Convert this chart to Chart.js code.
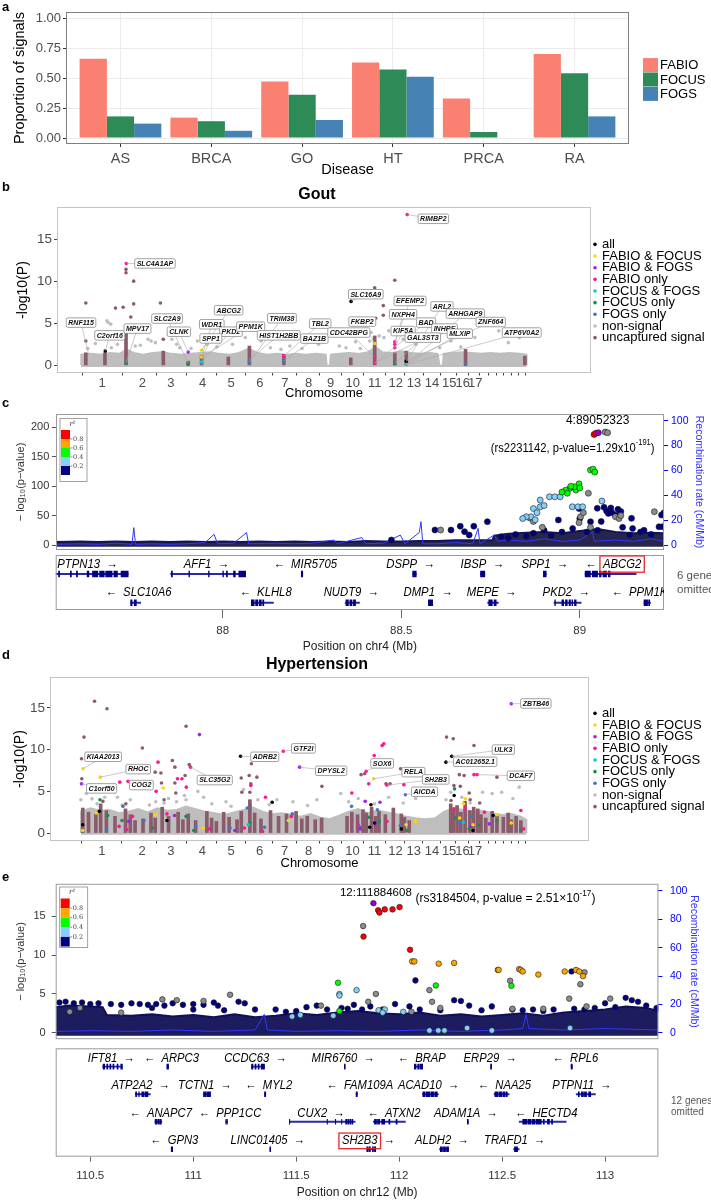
<!DOCTYPE html>
<html><head><meta charset="utf-8"><title>FABIO / FOCUS / FOGS signals</title>
<script src="https://cdn.jsdelivr.net/npm/chart.js@4.4.1/dist/chart.umd.min.js"></script>
<style>
html,body{margin:0;padding:0;background:#fff}
body{position:relative;width:711px;height:1200px;overflow:hidden}
.w{position:absolute;left:0;width:711px}
.L{position:absolute;left:2px;font:bold 13px "Liberation Sans",Arial,sans-serif;color:#000}
</style></head><body>
<div class="w" style="top:0;height:180px"><canvas id="cA"></canvas></div>
<div class="w" style="top:180px;height:222px"><canvas id="cB"></canvas></div>
<div class="w" style="top:400px;height:160px"><canvas id="cC"></canvas></div>
<div class="w" style="top:553px;height:110px"><canvas id="cCt"></canvas></div>
<div class="w" style="top:630px;height:242px"><canvas id="cD"></canvas></div>
<div class="w" style="top:870px;height:183px"><canvas id="cE"></canvas></div>
<div class="w" style="top:1046px;height:154px"><canvas id="cEt"></canvas></div>
<div class="L" style="top:-1px">a</div>
<div class="L" style="top:179px">b</div>
<div class="L" style="top:395px">c</div>
<div class="L" style="top:647px">d</div>
<div class="L" style="top:869px">e</div>
<script>
// ===================== DATA =====================
// Panel a
const diseases = ['AS','BRCA','GO','HT','PRCA','RA'];
const propFABIO = [0.66,0.17,0.47,0.63,0.33,0.70];
const propFOCUS = [0.18,0.14,0.36,0.57,0.05,0.54];
const propFOGS  = [0.12,0.06,0.15,0.51,0.00,0.18];
const methodNames = ['FABIO','FOCUS','FOGS'];

// Manhattan common
const sigCats = ['all','FABIO & FOCUS','FABIO & FOGS','FABIO only','FOCUS & FOGS','FOCUS only','FOGS only','non-signal','uncaptured signal'];
const chromTicks = [35,77,107,140,170,200,226,251,274,297,320,342,361,380,398,412,425,435,443,451,459,467,474];
const chromLabels = ['1','2','3','4','5','6','7','8','9','10','11','12','13','14','15','16','17','','','','','',''];

// Panel b (Gout): x = cumulative genome position (a.u.), y = -log10(P)
const bBand = [[13,0],[13,1.3],[23,1.4],[33,1.3],[43,1.5],[53,1.4],[61,1.9],[68,1.5],[78,1.3],[88,1.5],[98,1.6],[108,1.4],[118,1.3],[128,1.4],[138,1.5],[148,1.6],[158,1.4],[168,1.3],[178,1.5],[188,2.0],[198,1.5],[208,1.3],[218,1.4],[228,1.3],[238,1.4],[248,1.3],[258,1.4],[269,1.3],[270,0],[273,0],[274,1.3],[283,1.4],[293,1.5],[303,1.4],[313,1.6],[321,2.2],[328,1.6],[338,1.5],[348,1.7],[358,1.5],[368,1.4],[378,1.5],[386,1.4],[388,0],[391,0],[392,1.4],[401,1.5],[411,1.6],[421,1.5],[431,1.4],[441,1.5],[451,1.4],[461,1.5],[471,1.4],[479,1.3],[479,0]];
const bGrey = [[41.3,5.1],[40,5.3],[44,4.9],[31.3,3.3],[44.7,2.1],[51,2.5],[69.7,2.3],[75,2.4],[83,3.1],[86.3,2.9],[90.7,2.7],[108,3.1],[113,2.5],[116.3,2.1],[134.7,2.9],[144.7,2.5],[155,2.2],[171.3,2.5],[184.7,3.3],[201.3,2.9],[211,2.1],[231.3,2.3],[244,2.0],[261.3,2.5],[283,2.3],[316.3,3.9],[314.7,2.9],[324.7,3.5],[329.7,3.3],[334.7,4.1],[349.7,3.1],[363,2.5],[388,2.1],[399.7,2.9],[410,2.2],[424.7,3.3],[449.7,4.1],[459.7,2.7],[471.3,3.3],[20,2.0],[28,2.6],[60,2.6],[128,2.0],[222,1.9],[290,2.1],[305,2.0],[300,2.8]];
const bUncapturedCols = [[18,1.5],[38,1.5],[60,4.3],[99,1.7],[125,0.5],[139,1.2],[167,1.0],[189,2.3],[225,1.3],[295,0.9],[320,3.5],[341,1.5],[353,1.7],[415,1.9],[477,1.1]];
const bUncapturedPts = [[18,2.9],[18,7.4],[49,6.8],[57,6.9],[60,11.4],[60,11.0],[68,10.0],[68,7.3],[65,5.75],[96,7.4],[99,3.1],[320,9.2],[321,5.6],[329,7.1],[329,5.95],[341,10.1],[60,4.2],[60,3.6]];
const bAll = [[38.3,1.7],[295.3,7.6],[353,0.5]];
const bFabioFocus = [[139,1.8],[139,1.0],[320,2.6]];
const bFabioFogs = [[125,1.6]];
const bFabioOnly = [[60.3,12.1],[354,17.9],[341,2.8],[341,2.5],[341,2.1],[320,1.0],[225,1.1],[320,0.3]];
const bFocusFogs = [[139,0.4],[353,0.1]];
const bFocusOnly = [[60,0.3],[125,0.2],[341,0.2]];
const bFogsOnly = [[189,0.4],[225,0.5],[415,0.1],[125,0.1]];
// gene labels: name, label x, label y, signal x, signal y
const bLabels = [['RNF115',13,5.08,21,1.3],['C2orf16',43,3.57,38.3,1.7],['MPV17',72,4.37,60,0.3],['SLC4A1AP',90.3,12.1,60.3,12.1],['SLC2A9',103,5.56,125,0.3],['CLNK',115.3,4.0,125,1.6],['ABCG2',167.3,6.55,139,1.8],['WDR1',149.7,4.88,139,1.0],['PKD2',169.7,4.0,139,0.4],['SPP1',148.7,3.2,139,0.7],['PPM1K',190.3,4.6,139,0.95],['TRIM38',223,5.6,189,0.4],['HIST1H2BB',219.7,3.57,189,0.7],['TBL2',263,4.96,225,1.1],['BAZ1B',257,3.18,225,0.5],['CDC42BPG',293,3.9,320,1.0],['FKBP2',307,5.2,320,2.6],['SLC16A9',310.7,8.45,295.3,7.6],['EFEMP2',357,7.65,341,2.8],['NXPH4',349.7,6.07,341,2.5],['KIF5A',349.7,4.08,341,2.1],['ARL2',390.3,7.0,353,0.5],['BAD',373.7,5.08,320,0.3],['ARHGAP9',414.7,6.15,353,0.1],['INHBE',393,4.37,320,0.3],['GAL3ST3',370.3,3.3,341,0.2],['ZNF664',441.3,5.15,353,0.5],['MLXIP',409,3.77,353,0.1],['ATP6V0A2',473.7,3.9,353,0.1],['RIMBP2',381.3,17.4,354,17.9]];

// Panel d (Hypertension)
const dBand = [[13,0],[13,2.6],[23,3.0],[33,2.7],[43,2.8],[53,2.4],[63,2.6],[73,2.9],[83,2.5],[93,3.0],[103,2.7],[113,2.8],[123,3.2],[133,2.9],[143,2.6],[153,2.4],[163,2.2],[173,2.5],[183,2.8],[193,3.1],[203,2.6],[213,2.3],[223,2.4],[233,2.2],[243,2.0],[253,2.3],[263,1.9],[273,1.7],[283,2.1],[293,2.6],[303,2.9],[313,2.4],[323,2.7],[333,2.5],[343,2.3],[353,2.0],[363,1.8],[373,1.7],[383,1.8],[393,2.6],[403,3.0],[413,2.8],[423,2.6],[433,2.7],[443,2.4],[453,2.2],[463,2.3],[473,2.0],[479,1.6],[479,0]];
const dGrey = [[13,4.0],[18.7,4.75],[24.7,4.1],[38,4.3],[48,4.9],[51.3,4.3],[56.3,3.35],[64.7,4.0],[84.7,3.35],[91.3,3.75],[104.7,4.15],[113,3.75],[123,4.0],[121.3,4.5],[135.3,5.0],[141.3,4.3],[164.7,3.75],[183,5.2],[198,4.0],[218,4.0],[234.7,3.75],[259.7,4.0],[284.7,4.75],[293,3.75],[303,4.15],[334.7,4.3],[363,4.15],[394.7,4.0],[399.7,4.9],[411.3,4.3],[433,4.9],[443,4.75],[453,4.9],[464.7,4.15],[471.3,5.5],[150,3.5],[170,3.2],[210,3.4],[250,3.3],[320,3.5],[350,3.6],[420,3.6],[30,3.5],[100,3.6]];
const dUncapturedCols = [[15,3.0],[21,2.5],[28.7,2.3],[33.7,3.5],[39.7,2.7],[48.7,2.0],[59.7,2.9],[64.7,2.2],[69.7,1.5],[78,1.7],[86.3,2.4],[90.7,1.8],[98,3.1],[104.7,2.0],[114.7,2.5],[119.7,1.6],[125.3,2.3],[133,1.5],[144.7,2.6],[149.7,1.8],[154.7,1.4],[162.3,2.5],[168,1.9],[176.3,1.6],[180.7,2.6],[189.7,4.0],[194.7,2.4],[201.3,1.7],[211.3,2.7],[219.7,2.0],[228,2.3],[238,2.6],[244,1.7],[249.7,2.0],[258,1.6],[264.7,1.8],[291.3,2.0],[296.3,2.5],[302.3,2.2],[308,2.8],[311.3,2.4],[317,3.1],[321.3,2.0],[324.7,2.6],[331.3,2.2],[339.7,3.0],[348,2.3],[351.3,1.9],[356.3,1.5],[399.7,3.5],[402.3,2.8],[406.3,3.3],[410.3,2.5],[414.7,3.8],[419.7,2.7],[423.7,3.1],[428,2.9],[431.3,2.2],[436.3,1.8],[443,2.6],[448,2.1],[454.7,1.9],[459.7,2.4],[463,1.6],[468,2.0],[473,1.5]];
const dUncapturedPts = [[27.3,15.8],[40.3,14.9],[16.3,11.5],[123,12.8],[77.3,10.2],[13.7,8.9],[14,6.5],[90.7,7.3],[96.7,7.2],[97.3,6.0],[108.7,8.7],[111.3,7.9],[111.3,6.0],[112.3,4.8],[122,6.9],[126.3,8.2],[191.3,8.3],[189,6.9],[197,6.7],[180.7,6.6],[190.7,5.9],[181.3,4.9],[395.3,11.5],[402.3,11.3],[424,10.5],[347.3,7.7],[309.7,7.1],[306,7.0],[448,6.7],[408.7,7.0],[413.7,6.9],[403,5.7],[409.7,5.6],[332,5.9],[336.3,5.9],[419,4.8],[265,5.6],[36,3.8],[60,3.5],[100,4.0],[189.7,4.9],[190,3.3],[400,3.9],[420,4.0],[430,3.6]];
const dAll = [[180,9.2],[400.7,9.2],[394.7,8.5],[403.3,4.5],[213,3.7],[316.3,3.4],[32.3,2.6],[15,1.0],[320,1.2],[315,0.7],[444,2.1],[348,0.5],[423,0.3],[103,1.5]];
const dFabioFocus = [[15.3,7.7],[33.3,6.7],[99,5.4],[319,6.5],[29,2.4],[91,2.2],[230,1.5],[415,4.1],[413,3.5],[448,2.2],[353,1.0],[423,1.0],[463,1.2],[141,0.6],[363,1.4],[409,1.8],[15,0.3]];
const dFabioFogs = [[137,11.8],[13.7,5.9],[241.7,7.9],[463,15.5],[310.3,3.8],[325.7,3.7],[63,1.4],[111,2.1],[174,0.3],[305,0.5],[421,0.8],[440,1.1],[321,1.1]];
const dFabioOnly = [[224.7,9.8],[53.7,6.1],[62.3,6.2],[93.7,8.5],[91.7,5.0],[84,5.7],[114,6.5],[118.7,6.5],[127.7,7.9],[123.3,5.5],[190.7,5.7],[206,4.3],[329.7,10.7],[328,10.5],[319.7,9.3],[321.3,8.7],[311.3,7.4],[314,5.9],[333,5.75],[350.7,5.8],[424,7.0],[427.3,7.0],[296.3,4.8],[67,2.0],[103,2.3],[53,0.8],[61,0.4],[147,0.5],[184,0.6],[233,2.0],[303,1.0],[333,1.4],[403,2.9],[415,3.0],[435,2.5],[473,2.7],[476,0.5],[203,0.2]];
const dFocusFogs = [[188,1.0],[413,1.3]];
const dFocusOnly = [[33,4.0],[403.7,5.3],[41,2.1],[56,1.5],[123,2.0],[190,1.2],[314,1.9],[325,1.4],[354,0.3],[404,1.8],[419,0.5],[429,0.9],[448,1.5],[473,0.3],[88,0.6],[131,0.3]];
const dFogsOnly = [[352.3,4.6],[57,3.2],[79,1.5],[15,0.2],[40,0.4],[133,0.8],[169,0.6],[187,3.0],[205,0.7],[234,2.3],[296,3.2],[305,0.7],[323,2.8],[347,0.9],[409,1.2],[421,2.0]];
const dLabels = [['KIAA2013',36.3,9.14,15.3,7.7],['RHOC',73,7.66,33.3,6.7],['C1orf50',34.7,5.35,13.7,5.9],['COG2',76.3,5.75,62.3,6.2],['SLC35G2',153,6.35,127.7,7.9],['ADRB2',205.3,9.14,180,9.2],['GTF2I',245.7,10.15,224.7,9.8],['DPYSL2',274.7,7.46,241.7,7.9],['SOX6',328,8.35,311.3,7.4],['RELA',360.7,7.3,319,6.5],['SH2B3',384,6.43,333,5.75],['AICDA',372.3,4.95,352.3,4.6],['ULK3',454.7,10.0,400.7,9.2],['AC012652.1',425.3,8.54,394.7,8.5],['DCAF7',473,6.86,427.3,7.0],['ZBTB46',488.7,15.53,463,15.5]];

// LocusZoom common
const r2Breaks = ['0.8','0.6','0.4','0.2'];

// Panel c (chr4, Mb ; -log10 p ; recombination cM/Mb)
const cBand = [[87.532,5],[87.6,6],[87.65,5],[87.7,6],[87.75,5],[87.8,6],[87.85,5],[87.9,6],[87.95,5],[88.0,6],[88.05,5],[88.1,6],[88.15,5],[88.2,6],[88.25,5],[88.3,6],[88.35,5],[88.4,7],[88.45,6],[88.5,6],[88.55,7],[88.6,7],[88.65,8],[88.7,8],[88.755,8],[88.76,16],[88.8,19],[88.85,21],[88.9,22],[88.95,20],[89.0,24],[89.05,27],[89.1,22],[89.15,20],[89.2,21],[89.236,20]];
const cLead = [[89.052,191]];
const cRed = [[89.040,188],[89.045,190]];
const cOrange = [];
const cGreen = [[89.030,127.5],[89.037,129],[89.042,124],[88.998,104],[88.972,96.4],[88.96,93],[88.989,93.5],[88.985,99],[89.0,97],[88.965,88],[88.95,90],[88.975,100]];
const cLightBlue = [[88.889,76.5],[88.915,82],[88.93,82],[88.945,82],[88.889,65],[88.9,67],[88.863,48],[88.85,48],[88.875,43],[88.87,62],[88.979,65],[88.995,65],[89.062,74.8],[89.008,65],[88.84,45],[88.88,55]];
const cGrey = [[89.071,192],[89.078,191],[89.024,88],[89.002,48],[88.998,38],[89.1,48],[89.11,45],[89.209,56.7],[88.86,46],[88.87,40],[88.61,25.5],[88.895,30],[89.03,30],[89.01,55],[89.115,50]];
const cNavy = [[88.940,42.5],[88.998,62],[89.049,62.4],[89.068,64],[89.087,63],[89.107,60.7],[89.1,51],[89.08,53.7],[89.145,45.3],[89.229,51],[89.236,55],[89.222,31],[89.232,31],[88.594,25.5],[88.639,25.5],[88.665,32],[88.677,22.7],[88.69,17],[88.703,32],[88.741,39.7],[88.472,8.5],[89.0,45],[89.03,39.6],[89.148,28],[88.9,25],[88.95,22],[89.05,25],[89.12,30],[89.17,22],[88.8,12],[88.85,15],[89.06,40],[89.09,55],[89.075,58],[89.115,57],[89.18,25],[89.2,18],[88.78,14],[88.82,18],[88.87,20],[88.92,16],[88.98,28],[89.02,22],[89.14,17]];
const cRecomb = [[87.532,0.5],[87.6,1],[87.65,0.5],[87.7,1.5],[87.745,0.5],[87.75,14],[87.755,0.5],[87.8,1],[87.85,0.5],[87.9,1],[87.95,2],[87.975,8.6],[87.985,1],[88.03,1.5],[88.066,10],[88.072,1],[88.15,1.5],[88.2,1],[88.25,1.5],[88.311,4],[88.32,1],[88.389,6],[88.4,1],[88.45,1.5],[88.497,8],[88.51,1],[88.55,10],[88.555,18.8],[88.56,1],[88.6,1],[88.65,2],[88.7,1],[88.715,13.4],[88.72,1],[88.76,8],[88.77,3],[88.8,4],[88.85,3],[88.9,5],[88.95,3],[89.0,4],[89.036,10.7],[89.04,3],[89.1,4],[89.15,3],[89.2,5],[89.236,3]];
const cPosTicks = [88,88.5,89];
// genes: name, row, start, end, strand, label centre
const cGenes = [['PTPN13',1,87.532,87.735,1,87.621],['AFF1',1,87.854,88.064,1,87.954],['MIR5705',1,88.220,88.224,-1,88.231],['DSPP',1,88.532,88.542,1,88.526],['IBSP',1,88.722,88.734,1,88.727],['SPP1',1,88.898,88.906,1,88.902],['ABCG2',1,89.015,89.158,-1,89.094],['SLC10A6',2,87.742,87.770,-1,87.764],['KLHL8',2,88.080,88.142,-1,88.120],['NUDT9',2,88.343,88.383,1,88.360],['DMP1',2,88.576,88.588,1,88.575],['MEPE',2,88.742,88.772,1,88.753],['PKD2',2,88.928,89.004,1,88.962],['PPM1K',2,89.180,89.198,-1,89.167]];
const cExons = [[1,87.540,87.543],[1,87.573,87.576],[1,87.590,87.593],[1,87.620,87.625],[1,87.635,87.650],[1,87.655,87.668],[1,87.672,87.690],[1,87.695,87.705],[1,87.715,87.735],[1,87.856,87.859],[1,87.905,87.907],[1,87.960,87.962],[1,88.000,88.002],[1,88.010,88.013],[1,88.030,88.035],[1,88.045,88.064],[1,88.220,88.224],[1,88.532,88.542],[1,88.722,88.734],[1,88.898,88.906],[1,89.015,89.030],[1,89.035,89.050],[1,89.055,89.060],[1,89.065,89.075],[1,89.080,89.085],[2,87.742,87.746],[2,87.752,87.758],[2,88.080,88.088],[2,88.092,88.098],[2,88.102,88.108],[2,88.112,88.115],[2,88.345,88.352],[2,88.356,88.362],[2,88.366,88.372],[2,88.576,88.588],[2,88.745,88.755],[2,88.760,88.766],[2,88.930,88.932],[2,88.950,88.955],[2,88.960,88.965],[2,88.970,88.974],[2,88.978,88.980],[2,88.985,88.990],[2,89.180,89.190],[2,89.193,89.196]];

// Panel e (chr12)
const eBand = [[110.332,3.3],[110.4,3.5],[110.5,3.4],[110.56,3.3],[110.58,2.3],[110.7,2.2],[110.8,2.4],[110.9,2.1],[111.0,2.3],[111.1,2.0],[111.2,2.4],[111.3,2.0],[111.4,2.2],[111.5,2.5],[111.6,2.3],[111.7,2.6],[111.8,2.8],[111.9,2.5],[112.0,2.4],[112.1,2.6],[112.2,2.2],[112.3,2.4],[112.4,2.1],[112.5,2.3],[112.6,2.5],[112.7,2.2],[112.8,2.6],[112.9,2.8],[113.0,3.0],[113.1,3.4],[113.2,3.2],[113.259,2.8]];
const eLead = [[111.875,16.7]];
const eRed = [[111.898,15.8],[111.904,15.5],[111.930,15.9],[111.968,15.9],[112.002,16.2],[111.827,12.4],[112.053,10.7]];
const eOrange = [[112.063,9.2],[112.074,9.2],[112.192,8.9],[112.267,9.0],[112.479,8.1],[112.483,8.1],[112.583,8.2],[112.59,8.1],[112.6,7.9],[112.676,7.5],[112.804,7.9],[112.859,8.1],[112.875,7.9],[112.893,7.3]];
const eGreen = [[111.703,6.45],[112.545,6.05],[112.178,6.1],[111.71,2.8]];
const eLightBlue = [[111.71,5.0],[111.71,4.8],[111.793,5.5],[111.9,2.9],[111.93,3.0],[111.92,2.6],[112.02,2.7],[111.52,2.3],[111.48,2.1],[111.68,2.2],[112.147,0.3],[112.19,0.3],[112.22,0.3],[112.33,0.6],[112.45,0.3],[112.83,0.6]];
const eGrey = [[111.825,13.75],[112.9,7.8],[112.88,6.25],[112.539,6.7],[112.147,5.5],[111.887,5.0],[111.179,4.9],[112.826,4.4],[113.025,4.4],[112.91,3.4],[110.4,2.7],[110.65,2.6],[110.92,4.2],[111.62,3.5],[111.85,4.0],[112.16,4.0],[112.06,2.7],[112.2,3.2],[112.55,3.1],[112.7,3.1],[110.45,3.2],[110.85,4.3],[111.05,4.1]];
const eNavy = [[110.6,3.7],[110.65,3.6],[110.7,3.8],[110.74,3.7],[110.78,3.6],[110.82,3.7],[110.86,3.5],[110.9,3.8],[110.95,3.6],[111.0,3.7],[111.05,3.6],[111.1,3.9],[111.12,3.5],[111.0,3.0],[110.8,3.2],[111.15,2.9],[111.22,4.0],[111.25,3.8],[111.3,3.0],[111.6,3.5],[111.65,3.0],[111.72,3.2],[111.78,3.6],[111.82,3.0],[111.86,3.4],[111.92,3.0],[111.98,3.7],[112.05,3.4],[112.1,3.0],[112.3,4.1],[112.34,3.5],[112.4,2.9],[112.45,3.4],[112.55,3.0],[112.6,2.9],[112.65,3.0],[112.75,3.0],[112.837,7.9],[112.85,3.1],[112.95,3.2],[113.0,3.8],[113.1,4.5],[113.13,4.2],[113.16,4.0],[113.2,3.5],[113.25,3.2],[112.079,6.75],[112.267,4.2],[111.75,3.1],[110.35,3.9],[110.38,4.0],[110.42,3.8],[110.46,3.9],[110.5,3.7],[110.54,3.8],[111.5,2.8],[111.55,3.3],[111.4,3.0],[111.45,2.7],[112.2,2.9],[112.7,2.8],[112.9,3.0],[113.05,3.3]];
const eRecomb = [[110.332,1],[110.5,1.5],[110.7,1],[110.9,2],[111.1,1],[111.3,2],[111.345,13],[111.36,2],[111.5,1],[111.7,1.5],[111.9,1],[112.1,2],[112.3,1],[112.5,2],[112.6,3],[112.616,13],[112.63,3],[112.8,2],[113.0,3],[113.259,2]];
const ePosTicks = [110.5,111,111.5,112,112.5,113];
const eGenes = [['IFT81',1,110.560,110.656,1,110.602],['ARPC3',1,110.872,110.880,-1,110.894],['CCDC63',1,111.283,111.346,1,111.302],['MIR6760',1,111.734,111.738,1,111.728],['BRAP',1,112.074,112.114,-1,112.110],['ERP29',1,112.444,112.449,1,112.442],['RPL6',1,112.835,112.841,-1,112.856],['ATP2A2',2,110.719,110.792,1,110.745],['TCTN1',2,111.050,111.084,1,111.057],['MYL2',2,111.346,111.352,-1,111.367],['FAM109A',2,111.791,111.797,-1,111.809],['ACAD10',2,112.114,112.190,1,112.143],['NAA25',2,112.461,112.534,-1,112.511],['PTPN11',2,112.860,112.953,1,112.887],['ANAPC7',3,110.814,110.847,-1,110.842],['PPP1CC',3,111.158,111.166,-1,111.179],['CUX2',3,111.467,111.786,1,111.621],['ATXN2',3,111.875,112.030,-1,111.975],['ADAM1A',3,112.331,112.336,1,112.324],['HECTD4',3,112.583,112.811,-1,112.714],['GPN3',4,110.893,110.900,-1,110.908],['LINC01405',4,111.372,111.376,1,111.362],['SH2B3',4,111.842,111.886,1,111.851],['ALDH2',4,112.196,112.240,1,112.207],['TRAFD1',4,112.556,112.583,1,112.561]];
const eExons = [[1,110.562,110.570],[1,110.580,110.585],[1,110.595,110.600],[1,110.610,110.615],[1,110.630,110.635],[1,110.648,110.656],[1,110.872,110.880],[1,111.283,111.290],[1,111.300,111.305],[1,111.315,111.320],[1,111.330,111.346],[1,111.734,111.738],[1,112.074,112.082],[1,112.090,112.095],[1,112.100,112.114],[1,112.444,112.449],[1,112.835,112.841],[2,110.720,110.725],[2,110.735,110.738],[2,110.750,110.760],[2,110.765,110.780],[2,111.050,111.062],[2,111.066,111.084],[2,111.346,111.352],[2,111.791,111.797],[2,112.115,112.125],[2,112.130,112.150],[2,112.155,112.170],[2,112.175,112.185],[2,112.465,112.480],[2,112.485,112.500],[2,112.505,112.515],[2,112.520,112.525],[2,112.870,112.875],[2,112.885,112.895],[2,112.900,112.910],[2,112.920,112.930],[3,110.815,110.822],[3,110.827,110.835],[3,110.838,110.845],[3,111.158,111.160],[3,111.163,111.166],[3,111.467,111.469],[3,111.650,111.652],[3,111.690,111.692],[3,111.720,111.722],[3,111.740,111.745],[3,111.750,111.755],[3,111.760,111.765],[3,111.770,111.775],[3,111.880,111.890],[3,111.895,111.905],[3,111.915,111.930],[3,111.950,111.955],[3,111.985,111.990],[3,112.331,112.336],[3,112.600,112.620],[3,112.625,112.640],[3,112.645,112.660],[3,112.665,112.690],[3,112.700,112.705],[3,112.720,112.730],[3,112.740,112.745],[4,110.893,110.895],[4,110.897,110.900],[4,111.372,111.376],[4,111.843,111.850],[4,111.855,111.860],[4,111.870,111.875],[4,111.880,111.886],[4,112.200,112.210],[4,112.215,112.225],[4,112.230,112.240],[4,112.560,112.575]];

// ===================== STYLE =====================
const FONT = '"Liberation Sans", Arial, sans-serif';
const methodColors = ['#FA8072','#2E8B57','#4682B4'];
const sigColors = ['#000000','#FFD700','#A020F0','#FF1493','#00CED1','#1E8B4C','#3A78C2','#BEBEBE','#8B5B6B'];
const r2Colors = ['#FF0000','#FFA500','#00FF00','#87CEFA','#000080'];
const r2Lead = '#9400D3';
Chart.defaults.font.family = FONT;
Chart.defaults.animation = false;
Chart.defaults.events = [];
Chart.defaults.plugins.legend.display = false;
Chart.defaults.plugins.tooltip.enabled = false;
Chart.defaults.maintainAspectRatio = false;
const P = a => a.map(([x,y]) => ({x, y}));

function drawText(ctx, txt, x, y, font, color, align, sx) {
  ctx.save(); ctx.font = font; ctx.fillStyle = color; ctx.textAlign = align || 'center'; ctx.textBaseline = 'middle';
  ctx.translate(x, y); ctx.scale(sx || 1, 1); ctx.fillText(txt, 0, 0); ctx.restore();
}
function drawSup(ctx, parts, x, y, size, sx) {
  ctx.save(); ctx.translate(x, y); ctx.scale(sx || 1, 1);
  const fN = size + 'px ' + FONT, fS = (size * 0.68).toFixed(1) + 'px ' + FONT;
  let w = 0; parts.forEach(([t, s]) => { ctx.font = s ? fS : fN; w += ctx.measureText(t).width; });
  let cx = -w / 2; ctx.textBaseline = 'middle'; ctx.textAlign = 'left'; ctx.fillStyle = '#000';
  parts.forEach(([t, s]) => { ctx.font = s ? fS : fN; ctx.fillText(t, cx, s ? -size * 0.38 : 0); cx += ctx.measureText(t).width; });
  ctx.restore();
}
function rrect(ctx, x, y, w, h, r) {
  ctx.beginPath();
  if (ctx.roundRect) ctx.roundRect(x, y, w, h, r); else ctx.rect(x, y, w, h);
}

// ===================== PANEL A =====================
const isMajorProp = v => Math.abs(v * 4 - Math.round(v * 4)) < 1e-6;
const panelADecor = {
  id: 'panelADecor',
  afterDraw(chart) {
    const {ctx, chartArea: a} = chart;
    ctx.save();
    ctx.strokeStyle = '#808080'; ctx.lineWidth = 1;
    ctx.strokeRect(a.left + 0.5, a.top + 0.5, a.width - 1, a.height - 1);
    const cy = (a.top + a.bottom) / 2;
    methodNames.forEach((m, i) => {
      const y = cy + (i - 1) * 14.4 + 1.5;
      ctx.fillStyle = methodColors[i]; ctx.fillRect(a.right + 14, y - 7, 15, 14);
      ctx.fillStyle = '#000'; ctx.font = '13px ' + FONT; ctx.textBaseline = 'middle'; ctx.textAlign = 'left';
      ctx.fillText(m, a.right + 31, y + 0.5);
    });
    ctx.restore();
  }
};
new Chart(document.getElementById('cA'), {
  type: 'bar',
  data: { datasets: [propFABIO, propFOCUS, propFOGS].map((arr, i) => ({
    label: methodNames[i], data: arr.map((v, j) => ({x: j + 1, y: v})),
    backgroundColor: methodColors[i], categoryPercentage: 0.9, barPercentage: 1.0, borderWidth: 0 })) },
  options: {
    layout: {padding: {left: 0, right: 82, top: 12, bottom: 0}},
    scales: {
      x: {type: 'linear', min: 0.4, max: 6.6, offset: false,
        afterFit: s => { s.height = 36; },
        afterBuildTicks: s => { s.ticks = diseases.map((d, i) => ({value: i + 1})); },
        ticks: {callback: v => diseases[Math.round(v) - 1], autoSkip: false, maxRotation: 0, font: {size: 14.5}, color: '#4d4d4d', padding: 3},
        grid: {color: '#ebebeb', tickColor: '#333', tickLength: 3, offset: false}, border: {display: false},
        title: {display: true, text: 'Disease', font: {size: 14.5}, color: '#000', padding: {top: 0, bottom: 1}}},
      y: {type: 'linear', min: -0.05, max: 1.05,
        afterFit: s => { s.width = 66; },
        ticks: {stepSize: 0.125, includeBounds: false, callback: v => isMajorProp(v) ? v.toFixed(2) : '', font: {size: 13}, color: '#4d4d4d', padding: 2},
        grid: {color: c => isMajorProp(c.tick.value) ? '#ebebeb' : '#f5f5f5', tickColor: c => isMajorProp(c.tick.value) ? '#333' : 'rgba(0,0,0,0)', tickLength: 3},
        border: {display: false},
        title: {display: true, text: 'Proportion of signals', font: {size: 14.5}, color: '#000', padding: {top: 11, bottom: 0}}}
    }
  },
  plugins: [panelADecor]
});

// ===================== MANHATTAN (b, d) =====================
const manDecor = {
  id: 'manDecor',
  afterDatasetsDraw(chart, args, o) {
    const {ctx, scales: {x, y}} = chart;
    ctx.save();
    ctx.strokeStyle = '#a8a8a8'; ctx.lineWidth = 0.6;
    o.labels.forEach(([n, lx, ly, tx, ty]) => {
      ctx.beginPath(); ctx.moveTo(x.getPixelForValue(lx), y.getPixelForValue(ly));
      ctx.lineTo(x.getPixelForValue(tx), y.getPixelForValue(ty)); ctx.stroke();
    });
    ctx.font = 'italic bold 7px ' + FONT; ctx.textAlign = 'center'; ctx.textBaseline = 'middle';
    o.labels.forEach(([n, lx, ly]) => {
      const px = x.getPixelForValue(lx), py = y.getPixelForValue(ly);
      const w = ctx.measureText(n).width + 4, h = 9.5;
      rrect(ctx, px - w / 2, py - h / 2, w, h, 1.5);
      ctx.fillStyle = '#fff'; ctx.fill(); ctx.strokeStyle = '#8a8a8a'; ctx.lineWidth = 0.8; ctx.stroke();
      ctx.fillStyle = '#111'; ctx.fillText(n, px, py + 0.4);
    });
    ctx.restore();
  },
  afterDraw(chart, args, o) {
    const {ctx, chartArea: a} = chart;
    ctx.save();
    ctx.strokeStyle = '#c4c4c4'; ctx.lineWidth = 1;
    ctx.strokeRect(a.left + 0.5, a.top + 0.5, a.width - 1, a.height - 1);
    drawText(ctx, o.title, o.titleX, a.top - 12.5, 'bold 16px ' + FONT, '#000', 'center');
    const cy = (a.top + a.bottom) / 2 + 1;
    sigCats.forEach((c, i) => {
      const yy = cy + (i - 4) * 11.66;
      ctx.fillStyle = sigColors[i]; ctx.beginPath(); ctx.arc(o.legX, yy, 1.8, 0, Math.PI * 2); ctx.fill();
      drawText(ctx, c, o.legX + 7, yy, '13px ' + FONT, '#000', 'left');
    });
    ctx.restore();
  }
};
function makeManhattan(id, D) {
  const groups = [D.all, D.ff, D.fg, D.fo, D.cg, D.co, D.go];
  const pt = (data, color, order) => ({type: 'scatter', data: P(data), backgroundColor: color, pointRadius: 1.8, borderWidth: 0, order});
  return new Chart(document.getElementById(id), {
    type: 'scatter',
    data: {datasets: [
      ...groups.map((g, i) => pt(g, sigColors[i], 1)),
      pt(D.uPts, sigColors[8], 2),
      {type: 'bar', data: P(D.uCols), backgroundColor: sigColors[8], barThickness: 3, borderWidth: 0, order: 3},
      pt(D.grey, sigColors[7], 4),
      {type: 'line', data: P(D.band), backgroundColor: sigColors[7], borderColor: sigColors[7], borderWidth: 1.5, pointRadius: 0, fill: {value: -0.2}, tension: 0, order: 5}
    ]},
    options: {
      layout: {padding: {left: 0, right: D.padR, top: D.padT, bottom: 0}},
      scales: {
        x: {type: 'linear', min: D.xmin, max: D.xmax,
          afterFit: s => { s.height = D.xH; },
          afterBuildTicks: s => { s.ticks = chromTicks.map(v => ({value: v})); },
          ticks: {callback: (v, i) => chromLabels[i], autoSkip: false, maxRotation: 0, font: {size: 13}, color: '#4d4d4d', padding: 0},
          grid: {drawOnChartArea: false, tickColor: '#444', tickLength: 2.5}, border: {display: false},
          title: {display: true, text: 'Chromosome', font: {size: 13}, color: '#000', padding: {top: 0, bottom: 1}}},
        y: {type: 'linear', min: D.ymin, max: D.ymax,
          afterFit: s => { s.width = D.yW; },
          ticks: {stepSize: 5, includeBounds: false, font: {size: 13.5}, color: '#4d4d4d', padding: 2},
          grid: {drawOnChartArea: false, tickColor: '#444', tickLength: 3}, border: {display: false},
          title: {display: true, text: '-log10(P)', font: {size: 14}, color: '#000', padding: {top: D.yTP, bottom: 0}}}
      },
      plugins: {manDecor: {labels: D.labels, title: D.title, titleX: 317, legX: 595}}
    },
    plugins: [manDecor]
  });
}
makeManhattan('cB', {all: bAll, ff: bFabioFocus, fg: bFabioFogs, fo: bFabioOnly, cg: bFocusFogs, co: bFocusOnly, go: bFogsOnly,
  uPts: bUncapturedPts, uCols: bUncapturedCols, grey: bGrey, band: bBand, labels: bLabels, title: 'Gout',
  xmin: 0, xmax: 534, ymin: -0.9, ymax: 18.8, padR: 120, padT: 27, xH: 29, yW: 57, yTP: 14.6});
makeManhattan('cD', {all: dAll, ff: dFabioFocus, fg: dFabioFogs, fo: dFabioOnly, cg: dFocusFogs, co: dFocusOnly, go: dFogsOnly,
  uPts: dUncapturedPts, uCols: dUncapturedCols, grey: dGrey, band: dBand, labels: dLabels, title: 'Hypertension',
  xmin: -7, xmax: 532, ymin: -0.95, ymax: 18.7, padR: 122, padT: 47, xH: 31, yW: 50, yTP: 12});

// ===================== LOCUSZOOM (c, e) =====================
const lzDecor = {
  id: 'lzDecor',
  afterDraw(chart, args, o) {
    const {ctx, chartArea: a, scales: {x, y}} = chart;
    ctx.save();
    ctx.strokeStyle = '#9a9a9a'; ctx.lineWidth = 1;
    ctx.strokeRect(a.left + 0.5, a.top + 0.5, a.width - 1, a.height - 1);
    const L = o.legend, bx = a.left + L.dx, by = a.top + L.dy;
    ctx.fillStyle = '#fff'; ctx.fillRect(bx, by, L.w, L.h);
    ctx.strokeStyle = '#8a8a8a'; ctx.lineWidth = 0.8; ctx.strokeRect(bx + 0.5, by + 0.5, L.w, L.h);
    drawText(ctx, 'r²', bx + 13, by + 6, 'italic 7px "DejaVu Serif", serif', '#333', 'center');
    r2Colors.forEach((c, i) => { ctx.fillStyle = c; ctx.fillRect(bx + 1.5, by + 12 + i * L.sh, 9, L.sh); });
    ctx.strokeStyle = '#555'; ctx.lineWidth = 0.6;
    r2Breaks.forEach((b, i) => {
      const yy = by + 12 + (i + 1) * L.sh;
      ctx.beginPath(); ctx.moveTo(bx + 10.5, yy); ctx.lineTo(bx + 13, yy); ctx.stroke();
      drawText(ctx, b, bx + 13.5, yy, '6.5px "DejaVu Serif", serif', '#444', 'left');
    });
    o.notes.forEach(n => {
      const px = x.getPixelForValue(n.x), py = y.getPixelForValue(n.y);
      if (n.parts) drawSup(ctx, n.parts, px, py, n.size, n.sx);
      else drawText(ctx, n.text, px, py, n.size + 'px ' + FONT, '#000', 'center', n.sx);
    });
    ctx.restore();
  }
};
function makeLZ(id, L) {
  const sc = (data, color, order) => ({type: 'scatter', data: P(data), backgroundColor: color, borderColor: '#1a1a1a', borderWidth: 0.6, pointRadius: L.r, order});
  return new Chart(document.getElementById(id), {
    type: 'scatter',
    data: {datasets: [
      sc(L.lead, r2Lead, 1), sc(L.red, r2Colors[0], 2), sc(L.orange, r2Colors[1], 3), sc(L.green, r2Colors[2], 4),
      sc(L.lblue, r2Colors[3], 5), sc(L.grey, '#8c8c8c', 6), sc(L.navy, r2Colors[4], 7),
      {type: 'line', yAxisID: 'y2', data: P(L.recomb), borderColor: '#3535ff', borderWidth: 1, pointRadius: 0, fill: false, tension: 0, order: 8},
      {type: 'line', data: P(L.band), borderColor: L.bandEdge, borderWidth: 2, backgroundColor: L.bandColor, pointRadius: 0, fill: {value: L.bandBase}, tension: 0, order: 9}
    ]},
    options: {
      layout: {padding: {left: 0, right: 0, top: L.padT, bottom: L.padB}},
      scales: {
        x: {type: 'linear', display: false, min: L.xmin, max: L.xmax},
        y: {type: 'linear', position: 'left', min: L.ymin, max: L.ymax,
          afterFit: s => { s.width = L.yW; },
          ticks: {stepSize: L.yStep, includeBounds: false, font: {size: 11}, color: '#333', padding: L.yPad},
          grid: {drawOnChartArea: false, tickLength: 4, tickColor: '#555'}, border: {display: false},
          title: {display: true, text: '\u2212 log\u2081\u2080(p\u2212value)', font: {size: 11}, color: '#333', padding: {top: 13.9, bottom: 0}}},
        y2: {type: 'linear', position: 'right', min: L.rmin, max: L.rmax,
          afterFit: s => { s.width = L.y2W; },
          ticks: {stepSize: 20, includeBounds: false, font: {size: 10.5}, color: '#0000FF', padding: L.y2Pad},
          grid: {drawOnChartArea: false, tickLength: 4, tickColor: '#0000FF'}, border: {display: false},
          title: {display: true, text: 'Recombination rate (cM/Mb)', font: {size: 10.5}, color: '#3333FF', padding: {top: L.y2TP, bottom: 0}}}
      },
      plugins: {lzDecor: {legend: L.legend, notes: L.notes}}
    },
    plugins: [lzDecor]
  });
}

const trackDecor = {
  id: 'trackDecor',
  afterDraw(chart, args, o) {
    const {ctx, chartArea: a, scales: {x, y}} = chart;
    ctx.save();
    ctx.strokeStyle = '#9a9a9a'; ctx.lineWidth = 1;
    ctx.strokeRect(a.left + 0.5, a.top + 0.5, a.width - 1, a.height - 1);
    o.omit.lines.forEach((t, i) => drawText(ctx, t, o.omit.x, o.omit.y[i], o.omit.size + 'px ' + FONT, '#555', 'left'));
    ctx.beginPath(); ctx.rect(a.left, a.top, a.width, a.height); ctx.clip();
    const font = 'italic ' + o.fs + 'px ' + FONT;
    o.genes.forEach(([name, row, s, e, dir, lx]) => {
      const txt = dir < 0 ? '\u2190  ' + name : name + '  \u2192';
      const px = x.getPixelForValue(lx), py = y.getPixelForValue(row) - o.dy;
      drawText(ctx, txt, px, py, font, '#000', 'center', o.sx);
      if (name === o.boxed) {
        ctx.save(); ctx.font = font;
        const W = ctx.measureText(txt).width * o.sx, N = ctx.measureText(name).width * o.sx;
        const x0 = dir < 0 ? px + W / 2 - N : px - W / 2;
        ctx.strokeStyle = '#E8262B'; ctx.lineWidth = 1.3;
        ctx.strokeRect(x0 - 3, py - o.fs * 0.62, N + 6, o.fs * 1.25);
        ctx.restore();
      }
    });
    ctx.restore();
  }
};
function makeTrack(id, T) {
  return new Chart(document.getElementById(id), {
    type: 'bar',
    data: {datasets: [
      {data: T.exons.map(e => ({x: [e[1], e[2]], y: e[0]})), backgroundColor: '#00008B', barThickness: T.exonH, grouped: false, borderWidth: 0, borderSkipped: false},
      {data: T.genes.map(g => ({x: [g[2], g[3]], y: g[1]})), backgroundColor: '#2a2aa8', barThickness: 1.2, grouped: false, borderWidth: 0, borderSkipped: false}
    ]},
    options: {
      indexAxis: 'y',
      layout: {padding: {left: T.padL, right: T.padR, top: T.padT, bottom: 0}},
      scales: {
        x: {type: 'linear', min: T.xmin, max: T.xmax, offset: false,
          afterFit: s => { s.height = T.xH; },
          afterBuildTicks: s => { s.ticks = T.ticks.map(v => ({value: v})); },
          ticks: {callback: v => String(v), autoSkip: false, maxRotation: 0, font: {size: 11.5}, color: '#333', padding: T.tickPad},
          grid: {drawOnChartArea: false, tickLength: T.tickLen, tickColor: '#666', offset: false}, border: {display: false},
          title: {display: true, text: T.title, font: {size: 12}, color: '#222', padding: {top: 0, bottom: T.titlePadB}}},
        y: {type: 'linear', display: false, reverse: true, min: T.ymin, max: T.ymax, offset: false, grid: {offset: false}}
      },
      plugins: {trackDecor: {genes: T.genes, boxed: T.boxed, fs: T.fs, sx: T.sx, dy: T.dy, omit: T.omit}}
    },
    plugins: [trackDecor]
  });
}

makeLZ('cC', {lead: cLead, red: cRed, orange: cOrange, green: cGreen, lblue: cLightBlue, grey: cGrey, navy: cNavy,
  recomb: cRecomb, band: cBand, bandColor: '#26264c', bandEdge: '#14145a', bandBase: -3, r: 3,
  xmin: 87.532, xmax: 89.236, ymin: -8.5, ymax: 222.8, yStep: 50, rmin: -4, rmax: 105.4,
  padT: 14, padB: 10, yW: 56, y2W: 47, yPad: 2.7, y2Pad: 3, y2TP: 5.4,
  legend: {dx: 3.5, dy: 4, w: 27, h: 63, sh: 9},
  notes: [{text: '4:89052323', x: 89.05, y: 211, size: 12},
          {parts: [['(rs2231142, p-value=1.29x10', 0], ['-191', 1], [')', 0]], x: 88.98, y: 165, size: 13, sx: 0.86}]});
makeTrack('cCt', {genes: cGenes, exons: cExons, boxed: 'ABCG2', fs: 13, sx: 0.87, dy: 10, exonH: 6,
  xmin: 87.532, xmax: 89.236, ymin: 0.338, ymax: 2.254, ticks: cPosTicks, title: 'Position on chr4 (Mb)',
  padL: 55.7, padR: 47, padT: 2, xH: 53, tickLen: 8, tickPad: 6, titlePadB: 8.8,
  omit: {x: 677, y: [22.7, 37], size: 11.5, lines: ['6 genes', 'omitted']}});

makeLZ('cE', {lead: eLead, red: eRed, orange: eOrange, green: eGreen, lblue: eLightBlue, grey: eGrey, navy: eNavy,
  recomb: eRecomb, band: eBand, bandColor: '#1c1c5e', bandEdge: '#10105a', bandBase: -0.4, r: 2.8,
  xmin: 110.332, xmax: 113.259, ymin: -0.83, ymax: 19.2, yStep: 5, rmin: -4.5, rmax: 105,
  padT: 13.3, padB: 9.7, yW: 55.7, y2W: 52.6, yPad: 6, y2Pad: 7.5, y2TP: 10.4,
  legend: {dx: 3.5, dy: 2.7, w: 28, h: 60.5, sh: 9.6},
  notes: [{text: '12:111884608', x: 111.887, y: 18.0, size: 11.5},
          {parts: [['(rs3184504, p-value = 2.51\u00d710', 0], ['-17', 1], [')', 0]], x: 112.516, y: 17.3, size: 12, sx: 1}]});
makeTrack('cEt', {genes: eGenes, exons: eExons, boxed: 'SH2B3', fs: 12.5, sx: 0.9, dy: 8.5, exonH: 5,
  xmin: 110.332, xmax: 113.259, ymin: 0.332, ymax: 4.269, ticks: ePosTicks, title: 'Position on chr12 (Mb)',
  padL: 55.7, padR: 52.6, padT: 2.3, xH: 43.3, tickLen: 5, tickPad: 7, titlePadB: 0.5,
  omit: {x: 671, y: [1101 - 1046, 1112 - 1046], size: 10, lines: ['12 genes', 'omitted']}});
</script>
</body></html>
